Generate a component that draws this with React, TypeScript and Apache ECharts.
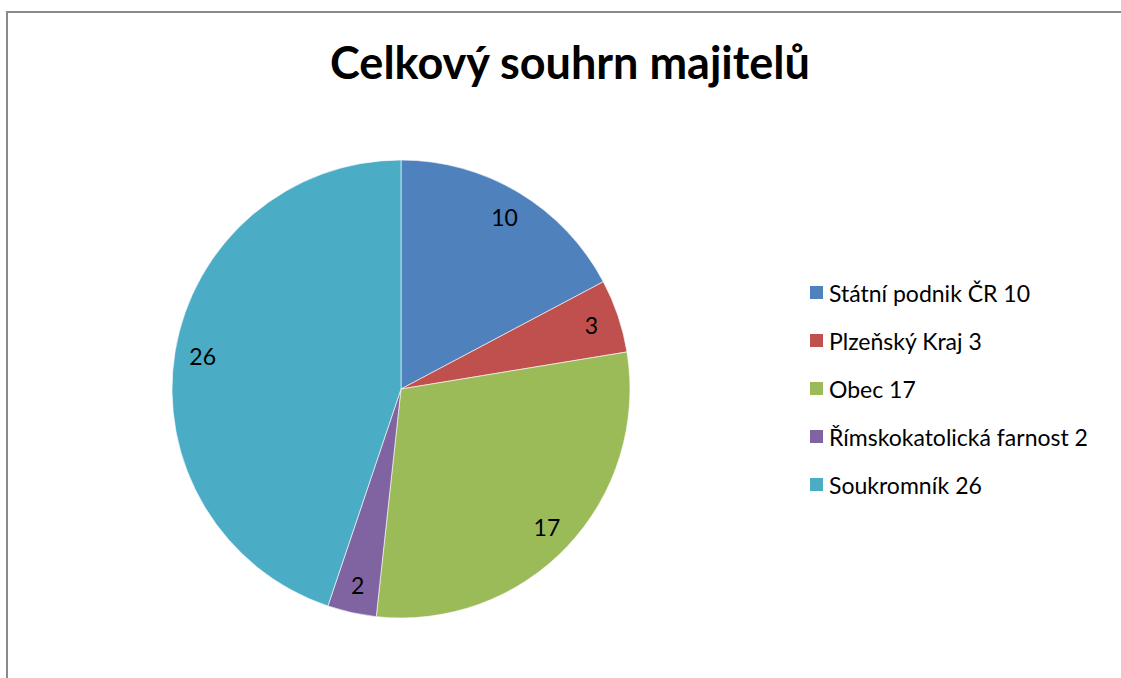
import React, { useEffect, useRef } from "react";
import * as echarts from "echarts";

const title = "Celkový souhrn majitelů";
const categories = ["Státní podnik ČR", "Plzeňský Kraj", "Obec", "Římskokatolická farnost", "Soukromník"];
const values = [10, 3, 17, 2, 26];
const colors = ["#4F81BD", "#C0504D", "#9BBB59", "#8064A2", "#4BACC6"];

const FONT = "Lato, 'Open Sans', sans-serif";

export default function App() {
  const ref = useRef<HTMLDivElement>(null);
  useEffect(() => {
    if (!ref.current) return;
    const chart = echarts.init(ref.current, undefined, { renderer: "svg" });
    const data = categories.map((name, i) => ({ name, value: values[i], itemStyle: { color: colors[i] } }));
    const valueByName: Record<string, number> = {};
    categories.forEach((c, i) => (valueByName[c] = values[i]));
    chart.setOption({
      animation: false,
      backgroundColor: "#ffffff",
      graphic: [
        {
          type: "rect",
          shape: { x: 7, y: 12, width: 1300, height: 900 },
          style: { fill: "none", stroke: "#898989", lineWidth: 2 },
          silent: true,
        },
        {
          type: "text",
          x: 570,
          y: 62,
          style: {
            text: title,
            font: `bold 45px ${FONT}`,
            fill: "#000000",
            align: "center",
            verticalAlign: "middle",
          },
        },
      ],
      legend: {
        orient: "vertical",
        left: 803,
        top: 276,
        itemWidth: 15,
        itemHeight: 15,
        itemGap: 25,
        icon: "rect",
        data: categories,
        formatter: (name: string) => `${name} ${valueByName[name]}`,
        textStyle: { fontFamily: FONT, fontSize: 23, color: "#000" },
      },
      series: [
        {
          type: "pie",
          center: [401, 389],
          radius: [0, 229],
          startAngle: 90,
          clockwise: true,
          data,
          label: { show: false },
          labelLine: { show: false },
          itemStyle: { borderColor: "#ffffff", borderWidth: 0.6 },
          emphasis: { disabled: true },
          silent: true,
        },
        {
          type: "pie",
          center: [401, 389],
          radius: [186, 210],
          startAngle: 90,
          clockwise: true,
          data: categories.map((name, i) => ({ name, value: values[i] })),
          itemStyle: { color: "rgba(0,0,0,0)" },
          label: {
            show: true,
            position: "inside",
            formatter: "{c}",
            fontFamily: FONT,
            fontSize: 23,
            color: "#000",
          },
          labelLine: { show: false },
          emphasis: { disabled: true },
          silent: true,
        },
      ],
    });
    return () => chart.dispose();
  }, []);
  return <div ref={ref} style={{ position: "fixed", left: 0, top: 0, width: 1121, height: 678 }} />;
}
